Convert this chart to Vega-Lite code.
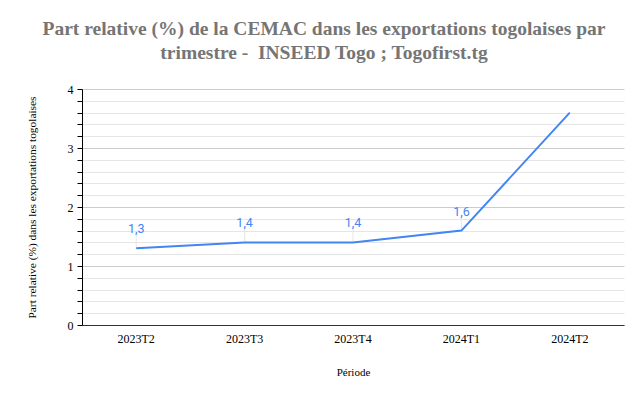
{
  "$schema": "https://vega.github.io/schema/vega-lite/v6.json",
  "width": 542,
  "height": 236,
  "autosize": {"type": "none"},
  "padding": {"left": 82, "top": 89, "right": 20, "bottom": 74},
  "background": "white",
  "title": {
    "text": ["Part relative (%) de la CEMAC dans les exportations togolaises par", "trimestre - \u00a0INSEED Togo ; Togofirst.tg"],
    "font": "Liberation Serif",
    "fontSize": 19.5,
    "fontWeight": "bold",
    "color": "#757575",
    "anchor": "middle",
    "dx": -29,
    "offset": 20,
    "lineHeight": 24
  },
  "config": {
    "view": {"stroke": null}
  },
  "data": {
    "values": [
      {"periode": "2023T2", "valeur": 1.3, "etiquette": "1,3"},
      {"periode": "2023T3", "valeur": 1.4, "etiquette": "1,4"},
      {"periode": "2023T4", "valeur": 1.4, "etiquette": "1,4"},
      {"periode": "2024T1", "valeur": 1.6, "etiquette": "1,6"},
      {"periode": "2024T2", "valeur": 3.6, "etiquette": ""}
    ]
  },
  "encoding": {
    "x": {
      "field": "periode",
      "type": "nominal",
      "sort": null,
      "title": "Période",
      "axis": {
        "labelAngle": 0,
        "labelFont": "Liberation Serif",
        "labelFontSize": 12,
        "labelColor": "#000000",
        "labelPadding": 8,
        "ticks": false,
        "domainColor": "#333333",
        "titleFont": "Liberation Serif",
        "titleFontSize": 11,
        "titleFontWeight": "normal",
        "titleColor": "#000000",
        "titlePadding": 22,
        "grid": false
      }
    },
    "y": {
      "field": "valeur",
      "type": "quantitative",
      "scale": {"domain": [0, 4], "nice": false},
      "title": "Part relative (%)  dans les exportations togolaises",
      "axis": {
        "values": [0, 0.2, 0.4, 0.6, 0.8, 1, 1.2, 1.4, 1.6, 1.8, 2, 2.2, 2.4, 2.6, 2.8, 3, 3.2, 3.4, 3.6, 3.8, 4],
        "labelExpr": "datum.value % 1 === 0 ? format(datum.value, 'd') : ''",
        "labelFont": "Liberation Serif",
        "labelFontSize": 12,
        "labelColor": "#000000",
        "labelPadding": 4,
        "labelOverlap": false,
        "tickColor": "#000000",
        "tickSize": 5,
        "domainColor": "#000000",
        "gridColor": {"condition": {"test": "datum.value % 1 === 0", "value": "#cccccc"}, "value": "#e6e6e6"},
        "titleFont": "Liberation Serif",
        "titleFontSize": 11.4,
        "titleFontWeight": "normal",
        "titleColor": "#000000",
        "titlePadding": 30
      }
    }
  },
  "layer": [
    {
      "transform": [{"filter": "datum.etiquette != ''"}],
      "mark": {"type": "tick", "orient": "vertical", "size": 16, "thickness": 1, "yOffset": -8, "color": "#dddddd"}
    },
    {
      "mark": {"type": "line", "color": "#4285F4", "strokeWidth": 2}
    },
    {
      "mark": {"type": "text", "color": "#4285F4", "font": "Roboto", "fontSize": 12.5, "dy": -19, "baseline": "middle"},
      "encoding": {"text": {"field": "etiquette"}}
    }
  ]
}
